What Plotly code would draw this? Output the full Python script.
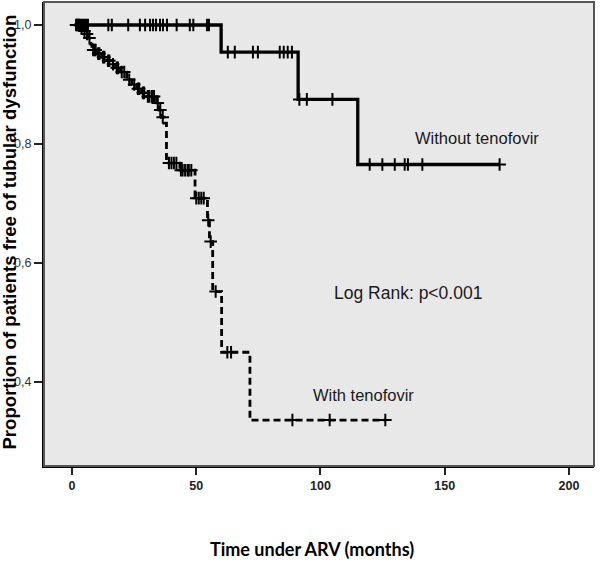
import plotly.graph_objects as go

# ---- data ----
# Without tenofovir: Kaplan-Meier step curve
without_t = [1.0, 60.0, 91.0, 115.0, 172.1]
without_s = [1.0, 0.9545, 0.875, 0.7656, 0.7656]
without_censor_t = [1.6, 2.4, 3.2, 4.0, 4.8, 5.6, 6.4, 14.6, 16.0, 22.6, 27.3, 29.4,
                    31.4, 32.6, 33.8, 35.4, 36.6, 38.2, 42.1, 47.4, 48.8, 54.3, 55.1,
                    62.7, 65.5, 72.8, 74.8, 83.6, 85.2, 86.8, 88.5,
                    91.5, 94.5, 104.8,
                    119.8, 124.9, 129.9, 133.9, 135.2, 141.0, 172.1]

# With tenofovir: Kaplan-Meier step curve
with_t = [1.0, 3.5, 4.5, 5.5, 6.5, 7.5, 8.0, 10.0, 12.0, 14.0, 16.0, 17.5, 19.5, 22.0,
          24.0, 26.0, 28.0, 30.0, 34.0, 35.0, 36.0, 37.0, 38.0, 43.4, 49.5, 54.5,
          55.3, 56.6, 60.2, 71.6, 126.1]
with_s = [1.0, 0.995, 0.99, 0.985, 0.978, 0.968, 0.958, 0.952, 0.946, 0.940, 0.934,
          0.928, 0.921, 0.908, 0.900, 0.893, 0.886, 0.880, 0.869, 0.857, 0.845, 0.835,
          0.768, 0.756, 0.709, 0.672, 0.636, 0.552, 0.450, 0.336, 0.336]
with_censor_t = [2.0, 2.8, 3.8, 5.0, 6.0, 7.0, 8.5, 9.0, 9.5, 10.5, 11.0, 12.5, 13.0,
                 14.5, 15.0, 16.5, 18.0, 18.5, 20.0, 21.0, 23.0, 25.0, 26.5, 27.0,
                 28.5, 29.0, 30.5, 31.0, 32.0, 32.5, 33.0, 34.5, 35.5, 36.5, 39.0,
                 40.0, 41.0, 42.0, 43.8, 44.5, 45.5, 46.5, 47.0, 48.0, 50.0, 51.0,
                 52.0, 53.0, 54.8, 55.8, 57.8, 62.5, 64.0, 88.7, 103.7, 126.1]

x_tickvals = [0, 50, 100, 150, 200]
y_tickvals = [0.4, 0.6, 0.8, 1.0]
y_ticktext = ["0,4", "0,6", "0,8", "1,0"]

label_without = "Without tenofovir"
label_with = "With tenofovir"
label_logrank = "Log Rank: p<0.001"
label_pos_without = (162.8, 0.810)
label_pos_with = (117.4, 0.378)
label_pos_logrank = (135.1, 0.5496)

x_title = "Time under ARV (months)"
y_title = "Proportion of patients free of tubular dysfunction"


def step_value(ts, ss, t):
    val = ss[0]
    for ti, si in zip(ts, ss):
        if ti <= t:
            val = si
    return val


fig = go.Figure()

fig.add_trace(go.Scatter(x=with_t, y=with_s, mode="lines", line_shape="hv",
                         line=dict(color="black", width=2.8, dash="7px,4px"),
                         showlegend=False, hoverinfo="skip"))
fig.add_trace(go.Scatter(x=with_censor_t,
                         y=[step_value(with_t, with_s, t) for t in with_censor_t],
                         mode="markers",
                         marker=dict(symbol="cross-thin", size=9,
                                     line=dict(color="black", width=2)),
                         showlegend=False, hoverinfo="skip"))

fig.add_trace(go.Scatter(x=without_t, y=without_s, mode="lines", line_shape="hv",
                         line=dict(color="black", width=3.3),
                         showlegend=False, hoverinfo="skip"))
fig.add_trace(go.Scatter(x=without_censor_t,
                         y=[step_value(without_t, without_s, t) for t in without_censor_t],
                         mode="markers",
                         marker=dict(symbol="cross-thin", size=9,
                                     line=dict(color="black", width=2)),
                         showlegend=False, hoverinfo="skip"))

for txt, pos, sz in [(label_without, label_pos_without, 16.5),
                     (label_with, label_pos_with, 16.5),
                     (label_logrank, label_pos_logrank, 17.5)]:
    fig.add_annotation(x=pos[0], y=pos[1], text=txt, showarrow=False,
                       font=dict(family="Liberation Sans, Arial", size=sz, color="#1a1a1a"),
                       xanchor="center", yanchor="middle")

# axis titles as paper-anchored annotations
fig.add_annotation(xref="paper", yref="paper", x=0.487, y=-0.178, yanchor="middle",
                   xanchor="center", showarrow=False, text="<b>%s</b>" % x_title,
                   font=dict(family="Lato, Open Sans", size=18, color="black"))
fig.add_annotation(xref="paper", yref="paper", x=-0.062, y=0.505, xanchor="center",
                   yanchor="middle", showarrow=False, textangle=-90,
                   text="<b>%s</b>" % y_title,
                   font=dict(family="Liberation Sans, Arial", size=18.6, color="black"))

# frame (top/right gray)
fig.add_shape(type="rect", xref="paper", yref="paper", x0=0, y0=0, x1=1, y1=1,
              line=dict(color="#555555", width=2), layer="above")

fig.update_layout(
    width=600, height=563,
    margin=dict(l=44, r=6, t=2, b=97),
    paper_bgcolor="white",
    plot_bgcolor="#e9e8e8",
    font=dict(family="Liberation Sans, Arial", color="#222"),
    xaxis=dict(range=[-11.3, 210.1], tickvals=x_tickvals, automargin=False,
               ticks="outside", ticklen=7, tickwidth=2, tickcolor="#222",
               showline=True, linecolor="black", linewidth=2,
               showgrid=False, zeroline=False,
               tickfont=dict(family="Liberation Sans, Arial", size=12.5, color="#222",
                             weight="bold")),
    yaxis=dict(range=[0.2588, 1.0387], tickvals=y_tickvals, ticktext=y_ticktext,
               automargin=False,
               ticks="outside", ticklen=8, tickwidth=2, tickcolor="#222",
               showline=True, linecolor="black", linewidth=2,
               showgrid=False, zeroline=False,
               tickfont=dict(family="Liberation Sans, Arial", size=12.5, color="#333")),
)

fig.write_html("out.html", config={"displayModeBar": False},
               post_script="document.body.style.margin='0';document.body.style.overflow='hidden';")
